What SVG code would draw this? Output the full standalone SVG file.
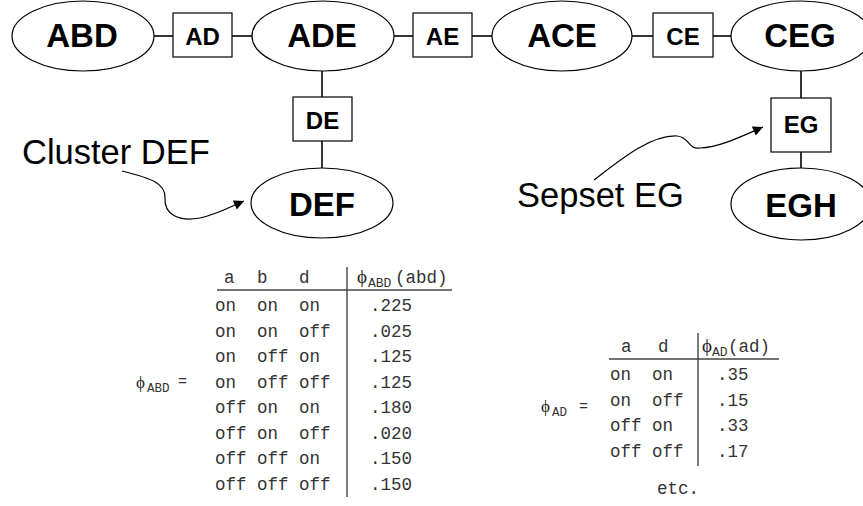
<svg xmlns="http://www.w3.org/2000/svg" width="863" height="506" viewBox="0 0 863 506">
<defs>
<style>
.n ellipse,.n rect{fill:#fff;stroke:#000;stroke-width:1.2}
.nl{font-family:"Liberation Sans",Arial,sans-serif;font-weight:bold;font-size:33px;text-anchor:middle}
.sl{font-family:"Liberation Sans",Arial,sans-serif;font-weight:bold;font-size:24px;text-anchor:middle}
.ann{font-family:"Liberation Sans",Arial,sans-serif;font-size:34.5px}
.c line{stroke:#000;stroke-width:1.6}
.c path{fill:none;stroke:#000;stroke-width:1.2}
.m{font-family:"Liberation Mono","Courier New",monospace;font-size:17.5px;fill:#333}
.ms{font-family:"Liberation Mono","Courier New",monospace;font-size:13px;fill:#333}
.ph{font-family:"Liberation Serif","DejaVu Serif",serif;font-size:19px;fill:#222}
.tl{stroke:#444;stroke-width:1.4}
</style>
<marker id="ah" viewBox="0 0 10 10" refX="10" refY="5" markerWidth="14" markerHeight="10" markerUnits="userSpaceOnUse" orient="auto">
<path d="M0,0 L10,5 L0,10 z" fill="#000"/>
</marker>
</defs>
<g id="connectors" class="c">
<line x1="153" y1="36" x2="173" y2="36"/>
<line x1="232" y1="36" x2="252" y2="36"/>
<line x1="394" y1="36" x2="413" y2="36"/>
<line x1="472" y1="36" x2="492" y2="36"/>
<line x1="632" y1="36" x2="653" y2="36"/>
<line x1="713" y1="36" x2="731" y2="36"/>
<line x1="322" y1="71" x2="322" y2="97"/>
<line x1="322" y1="141" x2="322" y2="168"/>
<line x1="801" y1="71" x2="801" y2="98"/>
<line x1="801" y1="152" x2="801" y2="168"/>
<path d="M122,171 C150,178 166,183 165,198 C164,214 178,222 200,218 C215,215 228,208 244,201" marker-end="url(#ah)"/>
<path d="M594,180 C620,160 650,135 677,136 C690,137 688,150 700,148 C720,147 740,137 763,127" marker-end="url(#ah)"/>
</g>
<g id="ABD" class="n"><ellipse cx="83" cy="36" rx="71" ry="35"/><text class="nl" x="82" y="47">ABD</text></g>
<g id="AD" class="n"><rect x="173" y="13" width="59" height="44"/><text class="sl" x="202.5" y="45">AD</text></g>
<g id="ADE" class="n"><ellipse cx="323" cy="36" rx="71" ry="35"/><text class="nl" x="322" y="47">ADE</text></g>
<g id="AE" class="n"><rect x="413" y="13" width="59" height="44"/><text class="sl" x="442.5" y="45">AE</text></g>
<g id="ACE" class="n"><ellipse cx="562" cy="36" rx="70" ry="35"/><text class="nl" x="562" y="47">ACE</text></g>
<g id="CE" class="n"><rect x="653" y="13" width="60" height="44"/><text class="sl" x="683" y="45">CE</text></g>
<g id="CEG" class="n"><ellipse cx="801" cy="36" rx="70" ry="35"/><text class="nl" x="800" y="47">CEG</text></g>
<g id="DE" class="n"><rect x="293" y="97" width="59" height="44"/><text class="sl" x="322.5" y="129">DE</text></g>
<g id="DEF" class="n"><ellipse cx="322" cy="203" rx="71" ry="35"/><text class="nl" x="322" y="216">DEF</text></g>
<g id="EG" class="n"><rect x="771" y="98" width="60" height="54"/><text class="sl" x="801" y="133">EG</text></g>
<g id="EGH" class="n"><ellipse cx="801" cy="204" rx="70" ry="36"/><text class="nl" x="801" y="217">EGH</text></g>
<text id="cluster-label" class="ann" x="22" y="164">Cluster DEF</text>
<text id="sepset-label" class="ann" x="517" y="207">Sepset EG</text>
<g id="table-ABD">
<line class="tl" x1="217" y1="290" x2="452" y2="290"/>
<line class="tl" x1="347" y1="267" x2="347" y2="497"/>
<text class="m" y="283"><tspan x="224">a</tspan><tspan x="257">b</tspan><tspan x="299">d</tspan></text>
<text class="ph" x="357" y="283">ϕ</text><text class="ms" x="368" y="287">ABD</text><text class="m" x="395" y="283">(abd)</text>
<text class="m" y="311"><tspan x="215">on</tspan><tspan x="257">on</tspan><tspan x="299">on</tspan><tspan x="370">.225</tspan></text>
<text class="m" y="336.5"><tspan x="215">on</tspan><tspan x="257">on</tspan><tspan x="299">off</tspan><tspan x="370">.025</tspan></text>
<text class="m" y="362"><tspan x="215">on</tspan><tspan x="257">off</tspan><tspan x="299">on</tspan><tspan x="370">.125</tspan></text>
<text class="m" y="387.5"><tspan x="215">on</tspan><tspan x="257">off</tspan><tspan x="299">off</tspan><tspan x="370">.125</tspan></text>
<text class="m" y="413"><tspan x="215">off</tspan><tspan x="257">on</tspan><tspan x="299">on</tspan><tspan x="370">.180</tspan></text>
<text class="m" y="438.5"><tspan x="215">off</tspan><tspan x="257">on</tspan><tspan x="299">off</tspan><tspan x="370">.020</tspan></text>
<text class="m" y="464"><tspan x="215">off</tspan><tspan x="257">off</tspan><tspan x="299">on</tspan><tspan x="370">.150</tspan></text>
<text class="m" y="489.5"><tspan x="215">off</tspan><tspan x="257">off</tspan><tspan x="299">off</tspan><tspan x="370">.150</tspan></text>
<text class="ph" x="136" y="388" style="font-size:17px">ϕ</text><text class="ms" x="147" y="392" style="font-size:12.5px">ABD</text><text class="m" x="178" y="386" style="font-size:15px">=</text>
</g>
<g id="table-AD">
<line class="tl" x1="609" y1="359" x2="779" y2="359"/>
<line class="tl" x1="698" y1="333" x2="698" y2="466"/>
<text class="m" y="352"><tspan x="621">a</tspan><tspan x="658">d</tspan></text>
<text class="ph" x="702" y="352">ϕ</text><text class="ms" x="712" y="356">AD</text><text class="m" x="728" y="352">(ad)</text>
<text class="m" y="380"><tspan x="610">on</tspan><tspan x="652">on</tspan><tspan x="717">.35</tspan></text>
<text class="m" y="405.5"><tspan x="610">on</tspan><tspan x="652">off</tspan><tspan x="717">.15</tspan></text>
<text class="m" y="431"><tspan x="610">off</tspan><tspan x="652">on</tspan><tspan x="717">.33</tspan></text>
<text class="m" y="456.5"><tspan x="610">off</tspan><tspan x="652">off</tspan><tspan x="717">.17</tspan></text>
<text class="ph" x="541" y="412" style="font-size:17px">ϕ</text><text class="ms" x="552" y="416" style="font-size:12.5px">AD</text><text class="m" x="579" y="411" style="font-size:15px">=</text>
<text class="m" x="657" y="494">etc.</text>
</g>
</svg>
